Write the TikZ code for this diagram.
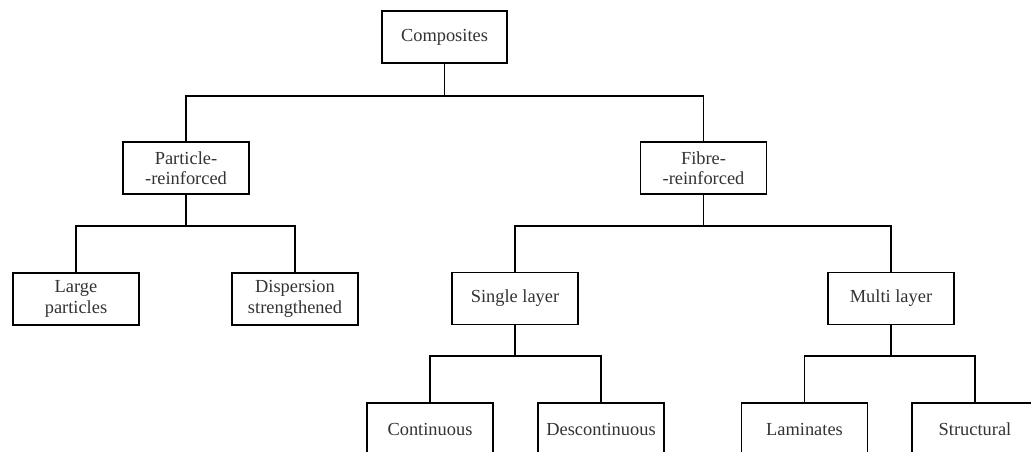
\documentclass[tikz,border=0pt]{standalone}
\usepackage{fontspec}
\setmainfont{Liberation Serif}
\begin{document}
\begin{tikzpicture}[x=1pt,y=-1pt,
  box/.style={draw=black, line width=1.6pt, minimum width=126pt, minimum height=52pt, inner sep=0pt, align=center, font=\fontsize{18.4}{20.5}\selectfont, text=black!80},
  conn/.style={draw=black, line width=1.6pt}]
\useasboundingbox (0,0) rectangle (1031,452);
\clip (0,0) rectangle (1031,452);
\fill[white] (0,0) rectangle (1031,452);
\node[box, minimum width=125pt] (comp) at (444.5,37) {Composites};
\node[box] (part) at (186,168) {Particle-\\{-}reinforced};
\node[box] (fibre) at (703.5,168) {Fibre-\\{-}reinforced};
\node[box] (large) at (76,299) {Large\\particles};
\node[box] (disp) at (295,299) {Dispersion\\strengthened};
\node[box] (single) at (515,298.5) {Single layer};
\node[box] (multi) at (891,298.5) {Multi layer};
\node[box] (cont) at (430,429) {Continuous};
\node[box] (desc) at (601,429) {Descontinuous};
\node[box] (lam) at (804.5,429) {Laminates};
\node[box] (struct) at (975,429) {Structural};
\coordinate (bus1) at (0,96);
\coordinate (bus2) at (0,226);
\coordinate (bus3) at (0,356);
\draw[conn] (comp.south) -- (comp.south |- bus1);
\draw[conn] (part.north) -- (part.north |- bus1) -| (fibre.north);
\draw[conn] (part.south) -- (part.south |- bus2);
\draw[conn] (large.north) -- (large.north |- bus2) -| (disp.north);
\draw[conn] (fibre.south) -- (fibre.south |- bus2);
\draw[conn] (single.north) -- (single.north |- bus2) -| (multi.north);
\draw[conn] (single.south) -- (single.south |- bus3);
\draw[conn] (cont.north) -- (cont.north |- bus3) -| (desc.north);
\draw[conn] (multi.south) -- (multi.south |- bus3);
\draw[conn] (lam.north) -- (lam.north |- bus3) -| (struct.north);
\end{tikzpicture}
\end{document}
